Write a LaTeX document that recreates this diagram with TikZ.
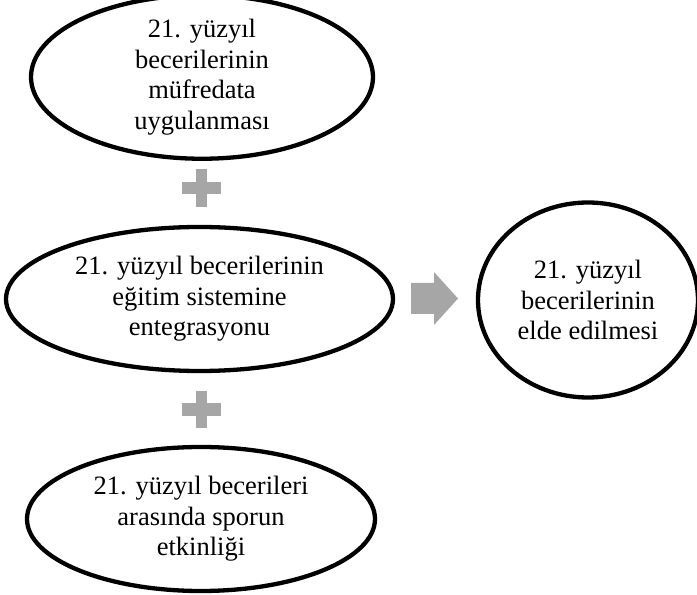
\documentclass[tikz,border=0pt]{standalone}
\usepackage{fontspec}
\setmainfont{Liberation Serif}
\usetikzlibrary{shapes.geometric}
\definecolor{plusgray}{HTML}{A6A6A6}
\tikzset{
  oval/.style={ellipse, draw, line width=4.3pt, inner sep=0pt, align=center,
               font=\fontsize{26.5}{30.5}\selectfont},
  bar/.style={fill=plusgray, draw=none}
}

\begin{document}
\begin{tikzpicture}[x=1pt,y=1pt]
    \useasboundingbox (0,0) rectangle (697,595);
    % left column
    \node [oval, minimum width=342pt, minimum height=146pt] (mufredat) at (202,518)
        {21. yüzyıl\\becerilerinin\\müfredata\\uygulanması};
    \node [oval, minimum width=387pt, minimum height=144pt] (entegrasyon) at (199.5,296)
        {21. yüzyıl becerilerinin\\eğitim sistemine\\entegrasyonu};
    \node [oval, minimum width=348pt, minimum height=144pt] (spor) at (201,76)
        {21. yüzyıl becerileri\\arasında sporun\\etkinliği};
    % result
    \node [oval, minimum width=220pt, minimum height=195pt] (sonuc) at (588,295)
        {21. yüzyıl\\becerilerinin\\elde edilmesi};
    % plus signs
    \coordinate (artiA) at (201.5,407);
    \coordinate (artiB) at (201.5,185.5);
    \fill [bar] ([shift={(-19.5,-6)}]artiA) rectangle ([shift={(19.5,6)}]artiA);
    \fill [bar] ([shift={(-5.5,-19)}]artiA) rectangle ([shift={(5.5,19)}]artiA);
    \fill [bar] ([shift={(-19.5,-6.5)}]artiB) rectangle ([shift={(19.5,6.5)}]artiB);
    \fill [bar] ([shift={(-5.5,-18.5)}]artiB) rectangle ([shift={(5.5,18.5)}]artiB);
    % arrow
    \fill [bar] (411,281) -- (434,281) -- (434,270) -- (458,296.5) -- (434,323)
        -- (434,312) -- (411,312) -- cycle;
\end{tikzpicture}
\end{document}
